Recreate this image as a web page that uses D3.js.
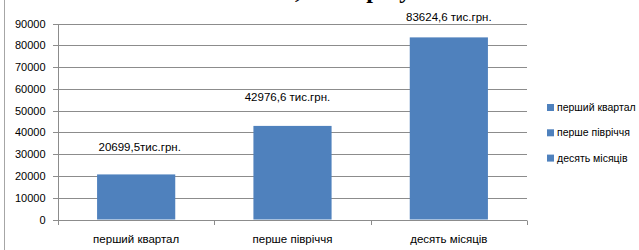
<!DOCTYPE html>
<html><head><meta charset="utf-8">
<script src="https://cdn.jsdelivr.net/npm/d3@7"></script>
<style>body{margin:0;background:#fff}svg{display:block}</style>
</head><body>
<svg id="c" width="639" height="250"></svg>
<script>
const categories = ["перший квартал", "перше півріччя", "десять місяців"];
const values = [20699.5, 42976.6, 83624.6];
const valueLabels = ["20699,5тис.грн.", "42976,6 тис.грн.", "83624,6 тис.грн."];
const yTicks = [0, 10000, 20000, 30000, 40000, 50000, 60000, 70000, 80000, 90000];
const titleText = "Обсяг коштів, тис. грн у 2013";

const labelDx = [3.5, -5, 0];
const labelDy = [-23.5, -25, -16];

const svg = d3.select("#c");
const font = "'Liberation Sans', Arial, sans-serif";
const blue = "#4F81BD";
const grid = "#8c8c8c";

const x = d3.scaleBand().domain(categories).range([58, 527]).paddingInner(0.5).paddingOuter(0.25);
const y = d3.scaleLinear().domain([0, 90000]).range([219.5, 23.5]);

// left border
svg.append("line").attr("x1", 4.5).attr("x2", 4.5).attr("y1", 0).attr("y2", 250)
  .attr("stroke", "#a6a6a6").attr("stroke-width", 1);

// title (mostly cropped at top)
const tmp = svg.append("text").attr("font-family", "'Liberation Serif', serif").attr("font-weight", "bold")
  .attr("font-size", 24).text(titleText.split(",")[0]);
const preW = tmp.node().getComputedTextLength();
tmp.remove();
svg.append("text").attr("x", 295 - preW).attr("y", -2)
  .attr("font-family", "'Liberation Serif', serif").attr("font-weight", "bold").attr("font-size", 24)
  .attr("fill", "#000").text(titleText);

// gridlines
svg.append("g").selectAll("line").data(yTicks).join("line")
  .attr("x1", 53).attr("x2", 527)
  .attr("y1", d => Math.round(y(d)) + 0.5).attr("y2", d => Math.round(y(d)) + 0.5)
  .attr("stroke", grid).attr("stroke-width", 1);

// y axis
const yAxis = svg.append("g").attr("transform", "translate(58.5,0)")
  .call(d3.axisLeft(y).tickValues(yTicks).tickSize(0).tickPadding(13).tickFormat(d3.format("d")));
yAxis.select(".domain").attr("stroke", grid).attr("d", `M0,${Math.round(y(90000))}V${Math.round(y(0))+0.5}`);
yAxis.selectAll("text").attr("font-family", font).attr("font-size", 11).attr("fill", "#000")
  .attr("y", 0).attr("dy", "0.35em");
yAxis.selectAll(".tick").attr("transform", d => `translate(0,${Math.round(y(d)) + 0.5})`);

// x axis tick marks at category boundaries
const step = x.step();
const bounds = [0, 1, 2, 3].map(i => 58 + i * step);
svg.append("g").selectAll("line").data(bounds).join("line")
  .attr("x1", d => Math.round(d) + 0.5).attr("x2", d => Math.round(d) + 0.5)
  .attr("y1", Math.round(y(0)) + 0.5).attr("y2", Math.round(y(0)) + 5)
  .attr("stroke", grid);

// x category labels
const xAxis = svg.append("g").attr("transform", `translate(0,${Math.round(y(0)) + 0.5})`)
  .call(d3.axisBottom(x).tickSize(0).tickPadding(14));
xAxis.select(".domain").remove();
xAxis.selectAll("text").attr("font-family", font).attr("font-size", 11.5).attr("fill", "#000");

// bars
svg.append("g").selectAll("rect").data(values).join("rect")
  .attr("x", (d, i) => x(categories[i]))
  .attr("width", x.bandwidth())
  .attr("y", d => y(d))
  .attr("height", d => y(0) - y(d))
  .attr("fill", blue);

// value labels
svg.append("g").selectAll("text").data(values).join("text")
  .attr("x", (d, i) => x(categories[i]) + x.bandwidth() / 2 + labelDx[i])
  .attr("y", (d, i) => y(d) + labelDy[i])
  .attr("text-anchor", "middle")
  .attr("font-family", font).attr("font-size", 11.5).attr("fill", "#000")
  .text((d, i) => valueLabels[i]);

// legend
const lg = svg.append("g").selectAll("g").data(categories).join("g")
  .attr("transform", (d, i) => `translate(547,${104 + i * 25.3})`);
lg.append("rect").attr("width", 7).attr("height", 7).attr("fill", blue);
lg.append("text").attr("x", 10).attr("y", 3.5).attr("dy", "0.35em")
  .attr("font-family", font).attr("font-size", 10.5).attr("fill", "#000").text(d => d);
</script>
</body></html>
